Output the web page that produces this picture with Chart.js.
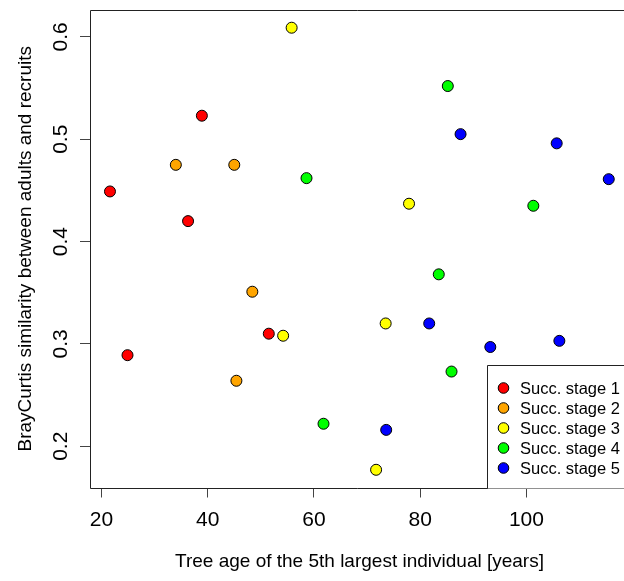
<!DOCTYPE html>
<html>
<head>
<meta charset="utf-8">
<script src="https://cdn.jsdelivr.net/npm/chart.js@4"></script>
<style>
  html, body { margin: 0; padding: 0; background: #fff; overflow: hidden; }
  canvas { display: block; }
</style>
</head>
<body>
<canvas id="plot" width="624" height="581"></canvas>
<script>
// tree age of the 5th largest individual [years] and BrayCurtis similarity, per succession stage
const stage1Age = [21.6, 24.9, 36.3, 38.9, 51.5];
const stage1Sim = [0.449, 0.289, 0.420, 0.523, 0.310];
const stage2Age = [34.0, 45.0, 45.4, 48.4];
const stage2Sim = [0.475, 0.475, 0.264, 0.351];
const stage3Age = [54.2, 55.8, 71.7, 73.5, 77.9];
const stage3Sim = [0.308, 0.609, 0.177, 0.320, 0.437];
const stage4Age = [58.6, 61.8, 83.5, 85.2, 85.9, 101.3];
const stage4Sim = [0.462, 0.222, 0.368, 0.552, 0.273, 0.435];
const stage5Age = [73.6, 81.7, 87.6, 93.2, 105.7, 106.2, 115.5];
const stage5Sim = [0.216, 0.320, 0.505, 0.297, 0.496, 0.303, 0.461];

const stageNames = ["Succ. stage 1", "Succ. stage 2", "Succ. stage 3", "Succ. stage 4", "Succ. stage 5"];
const stageColors = ["#ff0000", "#ffa500", "#ffff00", "#00ff00", "#0000ff"];

const xTicks = [20, 40, 60, 80, 100];
const yTicks = [0.2, 0.3, 0.4, 0.5, 0.6];
const xTitle = "Tree age of the 5th largest individual [years]";
const yTitle = "BrayCurtis similarity between adults and recruits";

const FONT = '"Liberation Sans", Arial, Helvetica, sans-serif';

function pairs(xs, ys) {
    return xs.map((v, i) => ({x: v, y: ys[i]}));
}

const allAges = [stage1Age, stage2Age, stage3Age, stage4Age, stage5Age];
const allSims = [stage1Sim, stage2Sim, stage3Sim, stage4Sim, stage5Sim];

const datasets = stageNames.map((name, i) => ({
    label: name,
    data: pairs(allAges[i], allSims[i]),
    backgroundColor: stageColors[i],
    borderColor: "#000",
    borderWidth: 1,
    pointRadius: 5.5,
    pointHoverRadius: 5.5
}));

// R-style box (right side runs off the picture), tick labels, axis titles and legend
const rStyle = {
    id: "rStyle",
    afterDraw(chart) {
        const {ctx, chartArea: a, scales: {x, y}} = chart;
        const L = Math.round(a.left) + 0.5, T = Math.round(a.top) + 0.5, B = Math.round(a.bottom) + 0.5;
        ctx.save();
        ctx.strokeStyle = "#222";
        ctx.lineWidth = 1;
        ctx.beginPath();
        ctx.moveTo(a.right + 2, T);
        ctx.lineTo(L, T);
        ctx.lineTo(L, B);
        ctx.lineTo(a.right + 2, B);
        ctx.stroke();

        ctx.fillStyle = "#000";
        ctx.textAlign = "center";
        ctx.textBaseline = "middle";
        ctx.font = "21px " + FONT;
        xTicks.forEach(v => ctx.fillText(String(v), x.getPixelForValue(v), a.bottom + 33));
        yTicks.forEach(v => {
            ctx.save();
            ctx.translate(a.left - 29, y.getPixelForValue(v));
            ctx.rotate(-Math.PI / 2);
            ctx.fillText(v.toFixed(1), 0, 0);
            ctx.restore();
        });

        ctx.font = "19px " + FONT;
        ctx.fillText(xTitle, (a.left + 629) / 2, a.bottom + 74);
        ctx.save();
        ctx.translate(26, (a.top + a.bottom) / 2);
        ctx.rotate(-Math.PI / 2);
        ctx.fillText(yTitle, 0, 0);
        ctx.restore();

        // legend, bottom right corner of the plot
        const lx = 487.5, ly = 365.5;
        ctx.fillStyle = "#fff";
        ctx.fillRect(lx, ly, a.right + 2 - lx, B - ly);
        ctx.strokeStyle = "#222";
        ctx.beginPath();
        ctx.moveTo(a.right + 2, ly);
        ctx.lineTo(lx, ly);
        ctx.lineTo(lx, B);
        ctx.stroke();
        ctx.font = "16.5px " + FONT;
        ctx.textAlign = "left";
        stageNames.forEach((name, i) => {
            const cy = 388 + i * 20;
            ctx.beginPath();
            ctx.arc(503.5, cy, 5.3, 0, Math.PI * 2);
            ctx.fillStyle = stageColors[i];
            ctx.fill();
            ctx.strokeStyle = "#000";
            ctx.stroke();
            ctx.fillStyle = "#000";
            ctx.fillText(name, 520, cy + 1);
        });
        ctx.restore();
    }
};

new Chart(document.getElementById("plot"), {
    type: "scatter",
    data: {datasets: datasets},
    options: {
        responsive: false,
        animation: false,
        devicePixelRatio: 1,
        layout: {autoPadding: false, padding: {left: 0, top: 10, right: 0, bottom: 0}},
        plugins: {
            legend: {display: false},
            tooltip: {enabled: false}
        },
        scales: {
            x: {
                type: "linear",
                min: 17.84,
                max: 118.37,
                afterBuildTicks: s => { s.ticks = xTicks.map(v => ({value: v})); },
                afterFit: s => { s.height = 93.5; },
                ticks: {display: false},
                border: {display: false},
                grid: {drawOnChartArea: false, drawTicks: true, tickLength: 10, color: "#444"}
            },
            y: {
                type: "linear",
                min: 0.1597,
                max: 0.6263,
                afterBuildTicks: s => { s.ticks = yTicks.map(v => ({value: v})); },
                afterFit: s => { s.width = 90; },
                ticks: {display: false},
                border: {display: false},
                grid: {drawOnChartArea: false, drawTicks: true, tickLength: 10, color: "#444"}
            }
        }
    },
    plugins: [rStyle]
});
</script>
</body>
</html>
